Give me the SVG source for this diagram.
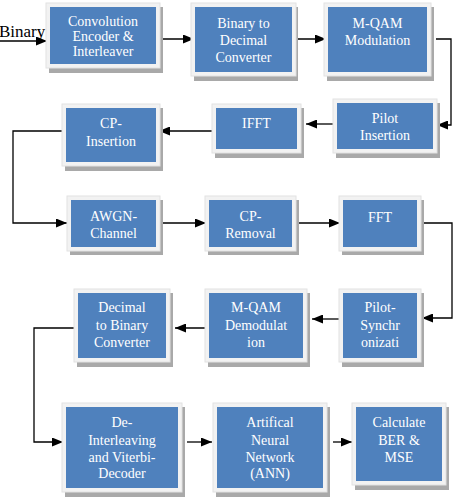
<svg xmlns="http://www.w3.org/2000/svg" width="459" height="501" viewBox="0 0 459 501">
<style>
.sh{fill:#a9a9a9}
.fr{fill:#f2f2f2;stroke:#e2e2e2;stroke-width:1}
.bl{fill:#4f81bd}
.t{font-size:14px;fill:#ffffff;text-anchor:middle}
.c{fill:none;stroke:#000;stroke-width:1.3}
</style>
<defs>
<marker id="ah" markerUnits="userSpaceOnUse" markerWidth="11" markerHeight="9" refX="11" refY="4.5" orient="auto">
<path d="M0,0 L11,4.5 L0,9 Z" fill="#000"/>
</marker>
</defs>
<rect width="459" height="501" fill="#ffffff"/>
<g font-family="Liberation Serif, Times New Roman, serif">
<text x="-1" y="37" font-size="17" fill="#000">Binary</text>

<g id="connectors">
<path class="c" d="M0,41 H47" marker-end="url(#ah)"/>
<path class="c" d="M157,39 H194" marker-end="url(#ah)"/>
<path class="c" d="M293,39 H326" marker-end="url(#ah)"/>
<path class="c" d="M436,39 H451 V125 H437" marker-end="url(#ah)"/>
<path class="c" d="M337,124 H306" marker-end="url(#ah)"/>
<path class="c" d="M213,131 H159" marker-end="url(#ah)"/>
<path class="c" d="M63,131 H13 V223 H67" marker-end="url(#ah)"/>
<path class="c" d="M157,223 H206" marker-end="url(#ah)"/>
<path class="c" d="M293,223 H340" marker-end="url(#ah)"/>
<path class="c" d="M419,223 H452 V318 H422" marker-end="url(#ah)"/>
<path class="c" d="M343,319 H312" marker-end="url(#ah)"/>
<path class="c" d="M209,328 H175" marker-end="url(#ah)"/>
<path class="c" d="M74,328 H34 V442 H63" marker-end="url(#ah)"/>
<path class="c" d="M187,442 H212" marker-end="url(#ah)"/>
<path class="c" d="M333,442 H352" marker-end="url(#ah)"/>
</g>

<g id="conv">
<rect class="sh" x="49" y="7" width="114" height="66"/>
<rect class="fr" x="46" y="3" width="114" height="65"/>
<rect class="bl" x="50" y="7" width="106" height="57"/>
<text class="t" x="103" y="26">Convolution</text>
<text class="t" x="103" y="41">Encoder &amp;</text>
<text class="t" x="103" y="56">Interleaver</text>
</g>

<g id="b2d">
<rect class="sh" x="194" y="7" width="104" height="74"/>
<rect class="fr" x="191" y="3" width="105" height="73"/>
<rect class="bl" x="195" y="7" width="97" height="65"/>
<text class="t" x="243.5" y="28">Binary to</text>
<text class="t" x="243.5" y="45">Decimal</text>
<text class="t" x="243.5" y="62">Converter</text>
</g>

<g id="mqam">
<rect class="sh" x="327" y="7" width="107" height="74"/>
<rect class="fr" x="324" y="3" width="107" height="73"/>
<rect class="bl" x="328" y="7" width="99" height="65"/>
<text class="t" x="377.5" y="28">M-QAM</text>
<text class="t" x="377.5" y="45">Modulation</text>
</g>

<g id="pilotins">
<rect class="sh" x="336" y="103" width="104" height="55"/>
<rect class="fr" x="333" y="99" width="104" height="54"/>
<rect class="bl" x="337" y="103" width="96" height="46"/>
<text class="t" x="385" y="123">Pilot</text>
<text class="t" x="385" y="140">Insertion</text>
</g>

<g id="ifft">
<rect class="sh" x="215" y="108" width="89" height="50"/>
<rect class="fr" x="212" y="104" width="89" height="49"/>
<rect class="bl" x="216" y="108" width="81" height="41"/>
<text class="t" x="256.5" y="128">IFFT</text>
</g>

<g id="cpins">
<rect class="sh" x="65" y="108" width="98" height="63"/>
<rect class="fr" x="62" y="104" width="98" height="62"/>
<rect class="bl" x="66" y="108" width="90" height="54"/>
<text class="t" x="111" y="128">CP-</text>
<text class="t" x="111" y="146">Insertion</text>
</g>

<g id="awgn">
<rect class="sh" x="70" y="200" width="93" height="55"/>
<rect class="fr" x="67" y="196" width="93" height="55"/>
<rect class="bl" x="71" y="200" width="85" height="47"/>
<text class="t" x="113.5" y="221">AWGN-</text>
<text class="t" x="113.5" y="238">Channel</text>
</g>

<g id="cprem">
<rect class="sh" x="208" y="200" width="91" height="55"/>
<rect class="fr" x="205" y="196" width="91" height="55"/>
<rect class="bl" x="209" y="200" width="83" height="47"/>
<text class="t" x="250.5" y="221">CP-</text>
<text class="t" x="250.5" y="238">Removal</text>
</g>

<g id="fft">
<rect class="sh" x="342" y="200" width="82" height="55"/>
<rect class="fr" x="339" y="196" width="82" height="55"/>
<rect class="bl" x="343" y="200" width="74" height="47"/>
<text class="t" x="380" y="222">FFT</text>
</g>

<g id="d2b">
<rect class="sh" x="77" y="293" width="96" height="74"/>
<rect class="fr" x="74" y="289" width="96" height="73"/>
<rect class="bl" x="78" y="293" width="88" height="65"/>
<text class="t" x="122" y="312">Decimal</text>
<text class="t" x="122" y="330">to Binary</text>
<text class="t" x="122" y="347">Converter</text>
</g>

<g id="mqamdemod">
<rect class="sh" x="208" y="293" width="102" height="74"/>
<rect class="fr" x="205" y="289" width="102" height="73"/>
<rect class="bl" x="209" y="293" width="94" height="65"/>
<text class="t" x="256" y="312">M-QAM</text>
<text class="t" x="256" y="330">Demodulat</text>
<text class="t" x="256" y="347">ion</text>
</g>

<g id="pilotsync">
<rect class="sh" x="342" y="293" width="82" height="74"/>
<rect class="fr" x="339" y="289" width="82" height="73"/>
<rect class="bl" x="343" y="293" width="74" height="65"/>
<text class="t" x="380" y="312">Pilot-</text>
<text class="t" x="380" y="330">Synchr</text>
<text class="t" x="380" y="347">onizati</text>
</g>

<g id="deint">
<rect class="sh" x="65" y="407" width="120" height="90"/>
<rect class="fr" x="62" y="403" width="120" height="89"/>
<rect class="bl" x="66" y="407" width="112" height="81"/>
<text class="t" x="122" y="427">De-</text>
<text class="t" x="122" y="445">Interleaving</text>
<text class="t" x="122" y="462">and Viterbi-</text>
<text class="t" x="122" y="478">Decoder</text>
</g>

<g id="ann">
<rect class="sh" x="216" y="407" width="114" height="90"/>
<rect class="fr" x="213" y="403" width="114" height="89"/>
<rect class="bl" x="217" y="407" width="106" height="81"/>
<text class="t" x="270" y="427">Artifical</text>
<text class="t" x="270" y="445">Neural</text>
<text class="t" x="270" y="462">Network</text>
<text class="t" x="270" y="478">(ANN)</text>
</g>

<g id="calc">
<rect class="sh" x="355" y="407" width="94" height="83"/>
<rect class="fr" x="352" y="403" width="94" height="82"/>
<rect class="bl" x="356" y="407" width="86" height="74"/>
<text class="t" x="399" y="427">Calculate</text>
<text class="t" x="399" y="445">BER &amp;</text>
<text class="t" x="399" y="462">MSE</text>
</g>
</g>
</svg>
